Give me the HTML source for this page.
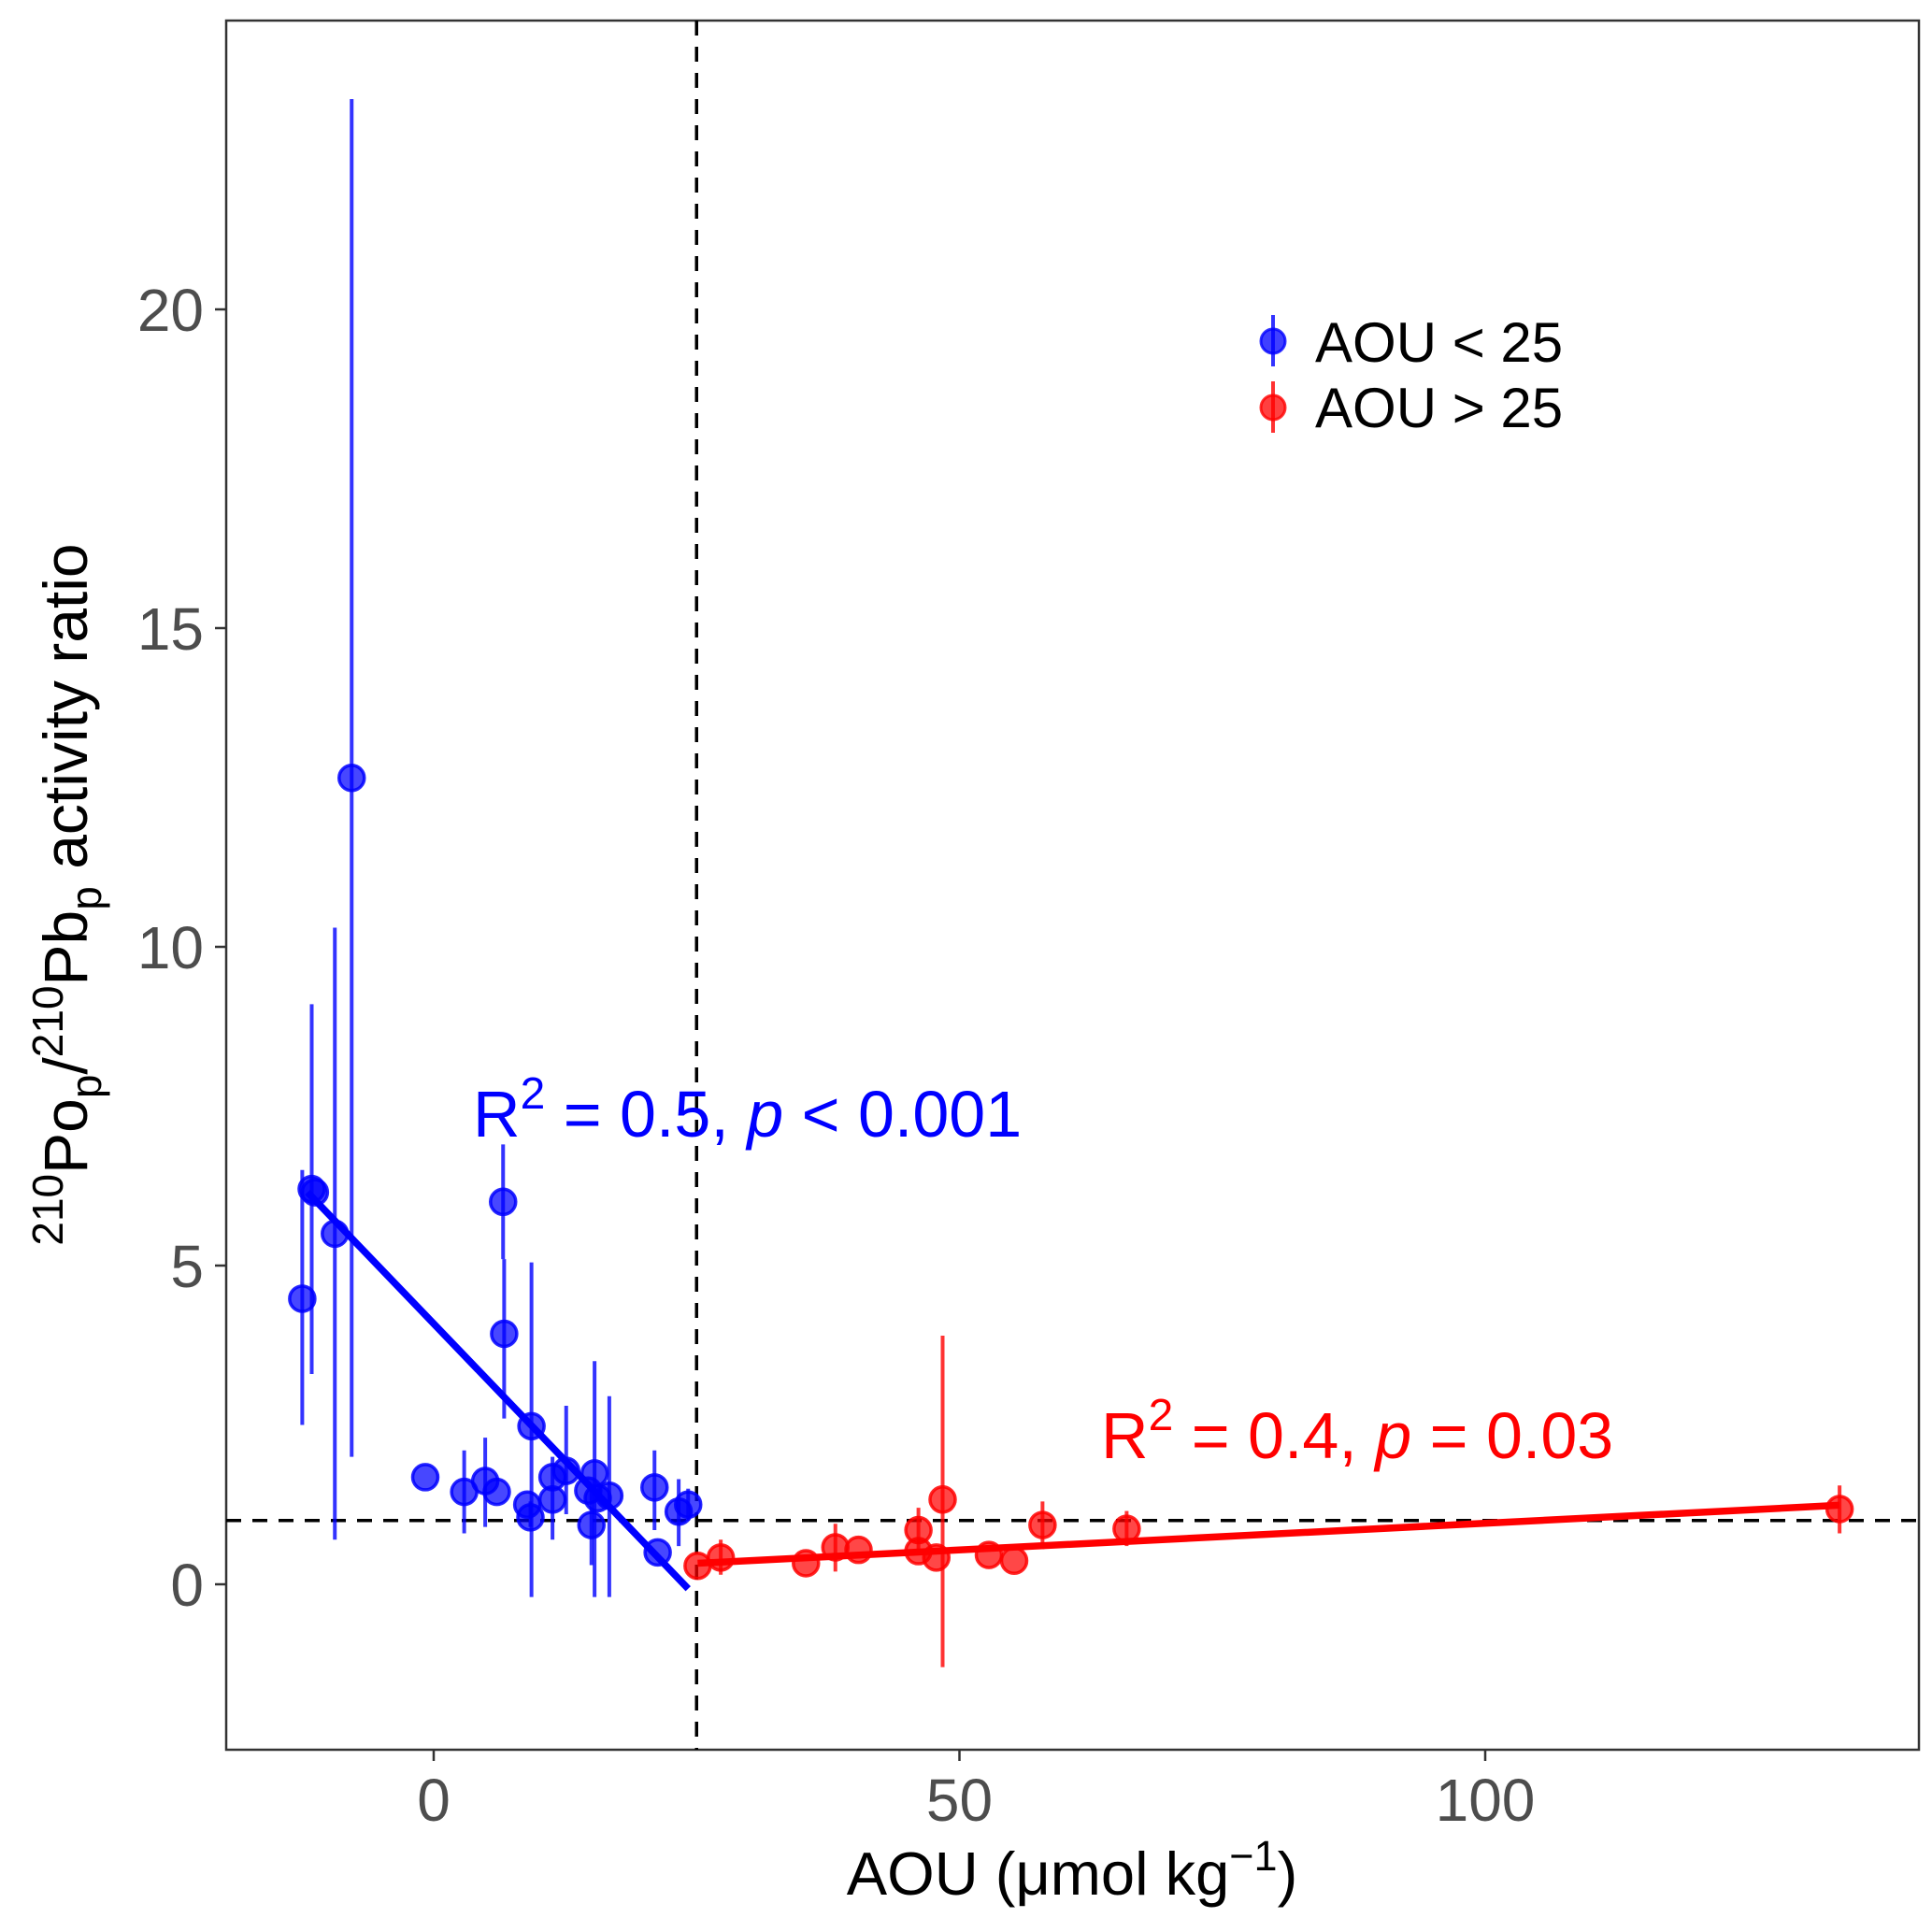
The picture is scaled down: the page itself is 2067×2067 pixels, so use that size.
<!DOCTYPE html>
<html><head><meta charset="utf-8"><style>
html,body{margin:0;padding:0;background:#fff}
svg{display:block}
text{font-family:"Liberation Sans",Arial,sans-serif}
</style></head><body>
<svg id="chart" width="2067" height="2067" viewBox="0 0 2067 2067" xmlns="http://www.w3.org/2000/svg">
<rect x="0" y="0" width="2067" height="2067" fill="#fff"/>
<rect x="242" y="22" width="1811" height="1850" fill="none" stroke="#333" stroke-width="2.5"/>
<g id="ref"></g>
<g id="marks"></g>
<g id="axes"></g>
<text x="1147" y="2027" font-size="65" text-anchor="middle" fill="#000">AOU (μmol kg<tspan dy="-26" font-size="45">−1</tspan><tspan dy="26">)</tspan></text>
<text transform="translate(93,957) rotate(-90)" font-size="66" text-anchor="middle" fill="#000"><tspan dy="-26" font-size="46">210</tspan><tspan dy="26">Po</tspan><tspan dy="15" font-size="46">p</tspan><tspan dy="-15">/</tspan><tspan dy="-26" font-size="46">210</tspan><tspan dy="26">Pb</tspan><tspan dy="15" font-size="46">p</tspan><tspan dy="-15"> activity ratio</tspan></text>
<text x="506" y="1216" font-size="70" fill="#0000ff">R<tspan dy="-30" font-size="48">2</tspan><tspan dy="30"> = 0.5, </tspan><tspan font-style="italic">p</tspan> &lt; 0.001</text>
<text x="1178" y="1560" font-size="70" fill="#ff0000">R<tspan dy="-30" font-size="48">2</tspan><tspan dy="30"> = 0.4, </tspan><tspan font-style="italic">p</tspan> = 0.03</text>
<g>
<line x1="1362" y1="337" x2="1362" y2="392" stroke="#0000ff" stroke-width="4" opacity="0.8"/>
<circle cx="1362" cy="365" r="13" fill="#0000ff" fill-opacity="0.75" stroke="#0000ff" stroke-opacity="0.8" stroke-width="3"/>
<text x="1407" y="387" font-size="60" fill="#000">AOU &lt; 25</text>
<line x1="1362" y1="408" x2="1362" y2="463" stroke="#ff0000" stroke-width="4" opacity="0.8"/>
<circle cx="1362" cy="436" r="13" fill="#ff0000" fill-opacity="0.75" stroke="#ff0000" stroke-opacity="0.8" stroke-width="3"/>
<text x="1407" y="457" font-size="60" fill="#000">AOU &gt; 25</text>
</g>
</svg>
<script>
const xTicks=[0,50,100];
const yTicks=[0,5,10,15,20];
const blueX=[-12.5,-11.6,-11.3,-9.4,-7.8,-0.8,2.9,4.9,6.0,6.6,6.7,8.9,9.2,9.3,11.3,11.3,12.6,14.7,15.0,15.3,15.6,16.7,21.0,21.3,23.3,24.2];
const blueY=[4.48,6.2,6.15,5.5,12.65,1.68,1.45,1.62,1.45,6.0,3.93,1.25,1.05,2.48,1.68,1.33,1.78,1.47,0.93,1.74,1.35,1.39,1.52,0.5,1.14,1.25];
const blueLo=[2.5,3.3,6.15,0.7,2.0,1.68,0.8,0.9,1.45,5.1,2.6,1.25,0.9,-0.2,1.68,0.7,1.1,1.47,0.3,-0.2,1.35,-0.2,0.85,0.5,0.6,1.0];
const blueHi=[6.5,9.1,6.15,10.3,23.3,1.68,2.1,2.3,1.45,6.9,5.1,1.25,1.3,5.05,1.68,2.0,2.8,1.47,1.5,3.5,1.35,2.95,2.1,0.5,1.65,1.5];
const redX=[25.1,27.3,35.4,38.2,40.4,46.1,46.1,47.8,48.4,52.8,55.2,57.9,65.9,133.7];
const redY=[0.29,0.42,0.33,0.58,0.54,0.85,0.52,0.42,1.33,0.46,0.37,0.93,0.87,1.18];
const redLo=[0.29,0.15,0.33,0.2,0.54,0.5,0.52,0.42,-1.3,0.46,0.37,0.55,0.6,0.8];
const redHi=[0.29,0.7,0.33,0.95,0.54,1.2,0.52,0.42,3.9,0.46,0.37,1.3,1.15,1.55];
const blueFitX=[-12,24.2];
const blueFitY=[6.15,-0.07];
const redFitX=[25.1,133.7];
const redFitY=[0.33,1.24];
const vRef=25, hRef=1;

const NS="http://www.w3.org/2000/svg";
const L=242,R=2053,T=22,B=1872;
function sx(v){return 464+v*11.25;}
function sy(v){return 1695-v*68.2;}
function mk(tag,attrs,parent){const e=document.createElementNS(NS,tag);for(const k in attrs)e.setAttribute(k,attrs[k]);parent.appendChild(e);return e;}
const ref=document.getElementById('ref'),marks=document.getElementById('marks'),axes=document.getElementById('axes');

let vl=mk('line',{x1:sx(vRef),x2:sx(vRef),y1:T,y2:B,stroke:'#000','stroke-width':3.5,'stroke-dasharray':'16,12'},ref);


let hl=mk('line',{x1:L,x2:R,y1:sy(hRef),y2:sy(hRef),stroke:'#000','stroke-width':3.5,'stroke-dasharray':'16,12'},ref);



function series(xs,ys,lo,hi,col,name){
  for(let i=0;i<xs.length;i++){
    if(hi[i]!==lo[i]){
      const e=mk('line',{x1:sx(xs[i]),x2:sx(xs[i]),y1:sy(lo[i]),y2:sy(hi[i]),stroke:col,'stroke-width':4,'stroke-opacity':0.8},marks);
      
      
    }
  }
  for(let i=0;i<xs.length;i++){
    const c=mk('circle',{cx:sx(xs[i]),cy:sy(ys[i]),r:13.5,fill:col,'fill-opacity':0.72,stroke:col,'stroke-opacity':0.85,'stroke-width':3.5},marks);
    
    
  }
}
series(blueX,blueY,blueLo,blueHi,'#0000ff','blue');
series(redX,redY,redLo,redHi,'#ff0000','red');
let bf=mk('line',{x1:sx(blueFitX[0]),y1:sy(blueFitY[0]),x2:sx(blueFitX[1]),y2:sy(blueFitY[1]),stroke:'#0000ff','stroke-width':7.5},marks);


let rf=mk('line',{x1:sx(redFitX[0]),y1:sy(redFitY[0]),x2:sx(redFitX[1]),y2:sy(redFitY[1]),stroke:'#ff0000','stroke-width':7.5},marks);



xTicks.forEach(v=>{
  const t=mk('line',{x1:sx(v),x2:sx(v),y1:B,y2:B+12,stroke:'#333','stroke-width':2.5},axes);
  
  
  const l=mk('text',{x:sx(v),y:1948,'font-size':64,'text-anchor':'middle',fill:'#4d4d4d'},axes);
  l.textContent=v;
  
  
});
yTicks.forEach(v=>{
  const t=mk('line',{x1:L-12,x2:L,y1:sy(v),y2:sy(v),stroke:'#333','stroke-width':2.5},axes);
  
  
  const l=mk('text',{x:218,y:sy(v)+23,'font-size':64,'text-anchor':'end',fill:'#4d4d4d'},axes);
  l.textContent=v;
  
  
});
</script>
</body></html>
